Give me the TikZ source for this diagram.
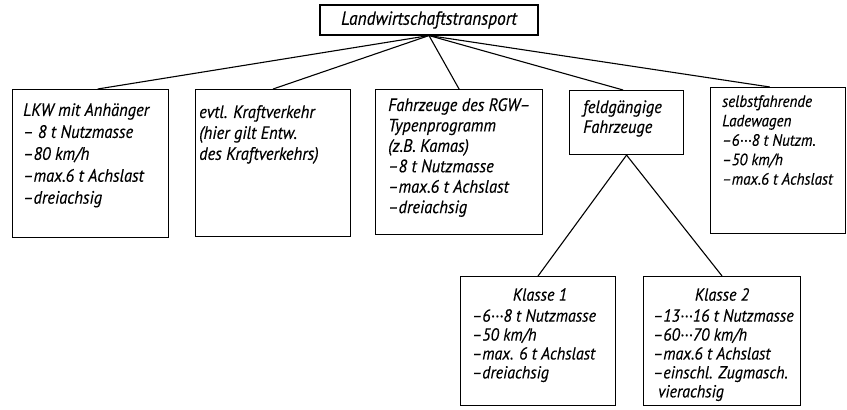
\documentclass[tikz,border=0pt]{standalone}
\usepackage{fontspec}
\setmainfont{PT Sans}[FakeStretch=0.92,FakeBold=0.3]
\usetikzlibrary{calc}
\begin{document}
\begin{tikzpicture}[x=1bp,y=-1bp,
  box/.style={draw, line width=1.1bp, inner sep=0pt, anchor=north west},
  txt/.style 2 args={anchor=north west, inner sep=0pt, align=left, font=\fontsize{#1}{#2}\selectfont\itshape},
  edge/.style={line width=1.1bp}]
\useasboundingbox (0,0) rectangle (847,409);
% top node
\node[draw, line width=1.1bp, minimum width=218bp, minimum height=30bp, inner sep=0pt,
      font=\fontsize{19}{20}\selectfont\itshape] (top) at (429,20) {Landwirtschaftstransport};
% first row boxes
\node[box, minimum width=156bp, minimum height=148bp] (b1) at (12,89) {};
\node[box, minimum width=155bp, minimum height=147bp] (b2) at (195,89) {};
\node[box, minimum width=167bp, minimum height=145bp] (b3) at (375,89) {};
\node[box, minimum width=114bp, minimum height=64bp] (b4) at (569,90) {};
\node[box, minimum width=135bp, minimum height=146bp] (b5) at (710,87) {};
% second row boxes
\node[box, minimum width=155bp, minimum height=129bp] (k1) at (460,276) {};
\node[box, minimum width=157bp, minimum height=129bp] (k2) at (643,276) {};
% texts
\node[txt={18}{22}] (t1) at (23,103) {LKW mit Anhänger\\– 8 t Nutzmasse\\–80 km/h\\–max.6 t Achslast\\–dreiachsig};
\node[txt={18}{21}] (t2) at (199,105) {evtl. Kraftverkehr\\(hier gilt Entw.\\des Kraftverkehrs)};
\node[txt={18}{20.5}] (t3) at (388,98) {Fahrzeuge des RGW–\\Typenprogramm\\(z.B. Kamas)\\–8 t Nutzmasse\\–max.6 t Achslast\\–dreiachsig};
\node[txt={18}{20}] (t4) at (583,100) {feldgängige\\Fahrzeuge};
\node[txt={16.5}{19.5}] (t5) at (722,95) {selbstfahrende\\Ladewagen\\–6···8 t Nutzm.\\–50 km/h\\–max.6 t Achslast};
\node[txt={17.5}{19}, anchor=north] (k1h) at (540,288) {Klasse 1};
\node[txt={17.5}{19}] (t6) at (472,309) {–6···8 t Nutzmasse\\–50 km/h\\–max. 6 t Achslast\\–dreiachsig};
\node[txt={17.5}{19}, anchor=north] (k2h) at (722,288) {Klasse 2};
\node[txt={17.5}{19}] (t7) at (653,309) {–13···16 t Nutzmasse\\–60···70 km/h\\–max.6 t Achslast\\–einschl. Zugmasch.\\\hspace*{5bp}vierachsig};
% connectors
\draw[edge] (top.south) -- ($(b1.north west)!0.545!(b1.north east)$);
\draw[edge] (top.south) -- (b2.north);
\draw[edge] (top.south) -- (b3.north);
\draw[edge] (top.south) -- ($(b4.north west)!0.47!(b4.north east)$);
\draw[edge] (top.south) -- ($(b5.north west)!0.44!(b5.north east)$);
\draw[edge] ($(b4.south west)!0.5!(b4.south east)$) -- (k1.north);
\draw[edge] ($(b4.south west)!0.5!(b4.south east)$) -- (k2.north);
\end{tikzpicture}
\end{document}
